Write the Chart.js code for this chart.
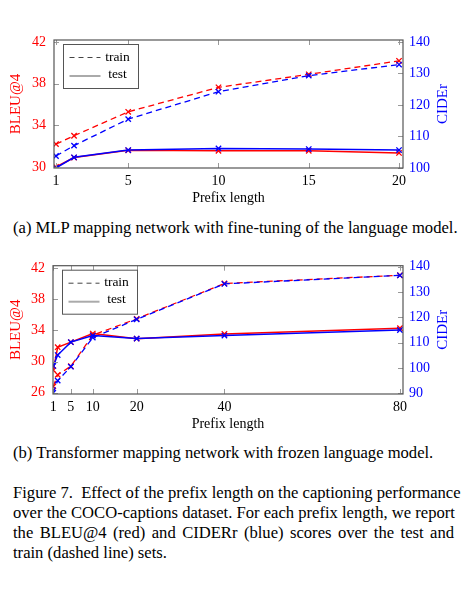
<!DOCTYPE html>
<html>
<head>
<meta charset="utf-8">
<script src="https://cdn.jsdelivr.net/npm/chart.js@4.4.1/dist/chart.umd.min.js"></script>
<style>
  body { margin: 0; background: #fff; width: 476px; height: 589px; position: relative; overflow: hidden; }
  canvas { position: absolute; left: 0; }
  .cap { position: absolute; left: 13px; font-family: "Liberation Serif", serif; font-size: 16.6px; line-height: 20px; color: #000; white-space: nowrap; }
  .fig { position: absolute; left: 13px; top: 483px; width: 441px; font-family: "Liberation Serif", serif; font-size: 16.6px; line-height: 20px; color: #000; }
  .fig div { text-align: justify; text-align-last: justify; white-space: nowrap; }
  .fig div.last { text-align-last: left; }
</style>
</head>
<body>
<canvas id="chartA" width="476" height="210" style="top:0px;width:476px;height:210px"></canvas>
<div class="cap" style="top:218px">(a) MLP mapping network with fine-tuning of the language model.</div>
<canvas id="chartB" width="476" height="200" style="top:240px;width:476px;height:200px"></canvas>
<div class="cap" style="top:443px">(b) Transformer mapping network with frozen language model.</div>
<div class="fig">
  <div>Figure 7.&nbsp; Effect of the prefix length on the captioning performance</div>
  <div>over the COCO-captions dataset. For each prefix length, we report</div>
  <div>the BLEU@4 (red) and CIDERr (blue) scores over the test and</div>
  <div class="last">train (dashed line) sets.</div>
</div>
<script>
// (a) MLP + fine-tuning
const prefixA = [1, 2, 5, 10, 15, 20];
const bleuTrainA = [32.2, 33.0, 35.3, 37.65, 38.9, 40.2];
const bleuTestA = [30.0, 30.9, 31.6, 31.55, 31.55, 31.35];
const ciderTrainA = [103.8, 107.1, 115.5, 124.2, 129.3, 132.8];
const ciderTestA = [100.0, 103.4, 105.7, 106.2, 106.0, 105.7];
const xTicksA = [1, 5, 10, 15, 20];
const bleuTicksA = [30, 34, 38, 42];
const ciderTicksA = [100, 110, 120, 130, 140];

// (b) Transformer + frozen LM
const prefixB = [1, 2, 5, 10, 20, 40, 80];
const bleuTrainB = [26.8, 28.3, 29.4, 33.4, 35.5, 40.05, 41.1];
const bleuTestB = [28.9, 31.85, 32.5, 33.6, 32.95, 33.55, 34.3];
const ciderTrainB = [90.2, 95.0, 100.5, 112.0, 119.2, 133.2, 136.6];
const ciderTestB = [100.8, 105.1, 110.2, 112.8, 111.6, 112.8, 115.0];
const xTicksB = [1, 5, 10, 20, 40, 80];
const bleuTicksB = [26, 30, 34, 38, 42];
const ciderTicksB = [90, 100, 110, 120, 130, 140];

const serif = '"Liberation Serif", serif';
const RED = '#ff0000';
const BLUE = '#0000ff';

function pts(xs, ys) {
  return xs.map((x, i) => ({x: x, y: ys[i]}));
}

function line(label, xs, ys, color, axis, dashed, order) {
  return {
    label: label,
    data: pts(xs, ys),
    yAxisID: axis,
    borderColor: color,
    backgroundColor: color,
    borderWidth: dashed ? 1.3 : 1.5,
    borderDash: dashed ? [6, 4] : [],
    pointStyle: 'crossRot',
    pointRadius: 3.8,
    pointBorderWidth: 1.3,
    pointBorderColor: color,
    tension: 0,
    order: order
  };
}

// border, inner ticks, legend box and right axis title
const framePlugin = {
  id: 'frame',
  afterDraw(chart) {
    const ctx = chart.ctx;
    const a = chart.chartArea;
    const sx = chart.scales.x, yl = chart.scales.yl, yr = chart.scales.yr;
    ctx.save();
    ctx.strokeStyle = '#999';
    ctx.lineWidth = 1;
    ctx.beginPath();
    sx.ticks.forEach(t => {
      const px = Math.round(sx.getPixelForValue(t.value)) + 0.5;
      ctx.moveTo(px, a.bottom); ctx.lineTo(px, a.bottom - 5);
      ctx.moveTo(px, a.top); ctx.lineTo(px, a.top + 5);
    });
    yl.ticks.forEach(t => {
      const py = Math.round(yl.getPixelForValue(t.value)) + 0.5;
      ctx.moveTo(a.left, py); ctx.lineTo(a.left + 5, py);
    });
    yr.ticks.forEach(t => {
      const py = Math.round(yr.getPixelForValue(t.value)) + 0.5;
      ctx.moveTo(a.right, py); ctx.lineTo(a.right - 5, py);
    });
    ctx.stroke();

    ctx.strokeStyle = '#555';
    ctx.lineWidth = 1.2;
    ctx.strokeRect(a.left, a.top, a.right - a.left, a.bottom - a.top);

    // legend
    const lx = a.left + 9.5, ly = a.top + 4.5;
    ctx.fillStyle = '#fff';
    ctx.fillRect(lx, ly, 75, 44);
    ctx.strokeStyle = '#555';
    ctx.lineWidth = 1;
    ctx.strokeRect(lx, ly, 75, 44);
    ctx.strokeStyle = '#444';
    ctx.setLineDash([5, 4]);
    ctx.beginPath();
    ctx.moveTo(lx + 6, ly + 13); ctx.lineTo(lx + 37, ly + 13);
    ctx.stroke();
    ctx.setLineDash([]);
    ctx.strokeStyle = '#aaa';
    ctx.lineWidth = 2;
    ctx.beginPath();
    ctx.moveTo(lx + 6, ly + 31.5); ctx.lineTo(lx + 37, ly + 31.5);
    ctx.stroke();
    ctx.fillStyle = '#000';
    ctx.font = '13.5px ' + serif;
    ctx.textAlign = 'center';
    ctx.textBaseline = 'middle';
    ctx.fillText('train', lx + 54, ly + 12.5);
    ctx.fillText('test', lx + 54, ly + 29.5);

    // right title, reading upwards
    ctx.translate(a.right + 40, (a.top + a.bottom) / 2);
    ctx.rotate(-Math.PI / 2);
    ctx.fillStyle = BLUE;
    ctx.font = '15px ' + serif;
    ctx.fillText('CIDEr', 0, 0);
    ctx.restore();
  }
};

function makeChart(id, cfg) {
  return new Chart(document.getElementById(id), {
    type: 'line',
    data: {
      datasets: [
        line('CIDEr test', cfg.xs, cfg.ciderTest, BLUE, 'yr', false, 0),
        line('BLEU test', cfg.xs, cfg.bleuTest, RED, 'yl', false, 1),
        line('CIDEr train', cfg.xs, cfg.ciderTrain, BLUE, 'yr', true, 2),
        line('BLEU train', cfg.xs, cfg.bleuTrain, RED, 'yl', true, 3)
      ]
    },
    options: {
      responsive: false,
      animation: false,
      layout: {padding: {top: cfg.top, left: 0, right: 0, bottom: 0}},
      plugins: {legend: {display: false}, tooltip: {enabled: false}},
      scales: {
        x: {
          type: 'linear', min: cfg.xMin, max: cfg.xMax,
          afterBuildTicks: s => { s.ticks = cfg.xTicks.map(v => ({value: v})); },
          afterFit: s => { s.height = cfg.xHeight; },
          grid: {display: false, drawTicks: false},
          border: {display: false},
          ticks: {color: '#000', font: {family: serif, size: 14}, padding: 4.5, maxRotation: 0, autoSkip: false},
          title: {display: true, text: 'Prefix length', color: '#000', font: {family: serif, size: 14}, padding: {top: 0, bottom: cfg.titlePad}}
        },
        yl: {
          type: 'linear', position: 'left', min: cfg.blMin, max: cfg.blMax,
          afterBuildTicks: s => { s.ticks = cfg.bleuTicks.map(v => ({value: v})); },
          afterFit: s => { s.width = cfg.left; },
          grid: {display: false, drawTicks: false},
          border: {display: false},
          ticks: {color: RED, font: {family: serif, size: 14}, padding: 8},
          title: {display: true, text: 'BLEU@4', color: RED, font: {family: serif, size: 15}, padding: {top: 7, bottom: 0}}
        },
        yr: {
          type: 'linear', position: 'right', min: cfg.crMin, max: cfg.crMax,
          afterBuildTicks: s => { s.ticks = cfg.ciderTicks.map(v => ({value: v})); },
          afterFit: s => { s.width = 476 - cfg.right; },
          grid: {display: false, drawTicks: false},
          border: {display: false},
          ticks: {color: BLUE, font: {family: serif, size: 14}, padding: 6}
        }
      }
    },
    plugins: [framePlugin]
  });
}

makeChart('chartA', {
  xs: prefixA, bleuTrain: bleuTrainA, bleuTest: bleuTestA, ciderTrain: ciderTrainA, ciderTest: ciderTestA,
  xTicks: xTicksA, bleuTicks: bleuTicksA, ciderTicks: ciderTicksA,
  xMin: 0.89, xMax: 20.22, blMin: 29.9, blMax: 42.2, crMin: 100, crMax: 140.6,
  top: 40, left: 54, right: 403, xHeight: 42, titlePad: 3.6
});

makeChart('chartB', {
  xs: prefixB, bleuTrain: bleuTrainB, bleuTest: bleuTestB, ciderTrain: ciderTrainB, ciderTest: ciderTestB,
  xTicks: xTicksB, bleuTicks: bleuTicksB, ciderTicks: ciderTicksB,
  xMin: 0.93, xMax: 80.7, blMin: 25.83, blMax: 42.33, crMin: 89.72, crMax: 140.4,
  top: 25.7, left: 53, right: 403, xHeight: 46, titlePad: 7.6
});
</script>
</body>
</html>
